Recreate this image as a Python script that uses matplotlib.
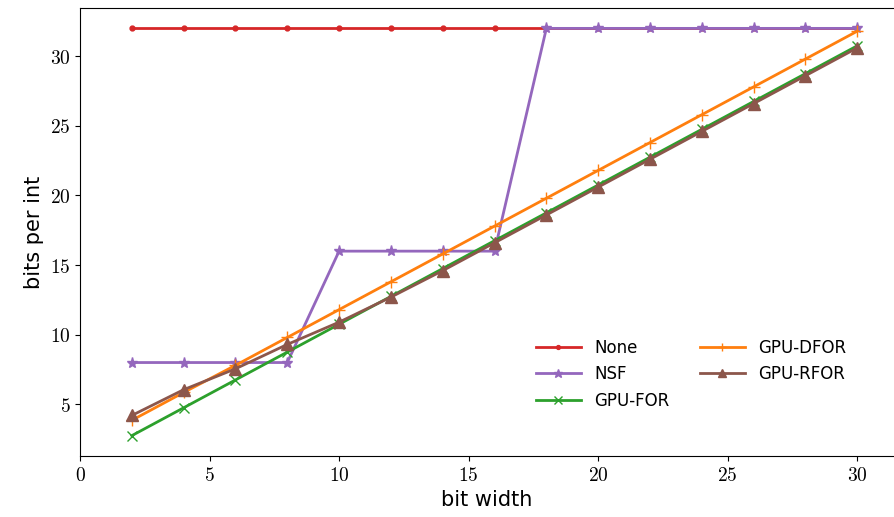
import numpy as np
import matplotlib.pyplot as plt
from matplotlib.ticker import FuncFormatter

plt.rcParams['mathtext.fontset'] = 'cm'
plt.rcParams['font.family'] = ['DejaVu Sans']

bit_width = [2, 4, 6, 8, 10, 12, 14, 16, 18, 20, 22, 24, 26, 28, 30]
none_bits = [32, 32, 32, 32, 32, 32, 32, 32, 32, 32, 32, 32, 32, 32, 32]
nsf_bits = [8, 8, 8, 8, 16, 16, 16, 16, 32, 32, 32, 32, 32, 32, 32]
gpu_for = [2.75, 4.75, 6.75, 8.75, 10.75, 12.75, 14.75, 16.75, 18.75, 20.75,
           22.75, 24.75, 26.75, 28.75, 30.75]
gpu_dfor = [3.85, 5.85, 7.8, 9.8, 11.8, 13.8, 15.8, 17.8, 19.8, 21.8,
            23.8, 25.8, 27.8, 29.8, 31.8]
gpu_rfor = [4.2, 6.05, 7.55, 9.3, 10.9, 12.7, 14.6, 16.6, 18.6, 20.6,
            22.6, 24.6, 26.6, 28.6, 30.6]


def draw():
    fig = plt.figure(figsize=(8.94, 5.17), dpi=100)
    ax = fig.add_axes([0.0895, 0.118, 0.91, 0.8665])

    ax.plot(bit_width, none_bits, color='tab:red', marker='.', markersize=7,
            linewidth=2, label='None')
    ax.plot(bit_width, nsf_bits, color='tab:purple', marker='*', markersize=8,
            linewidth=2, label='NSF')
    ax.plot(bit_width, gpu_for, color='tab:green', marker='x', markersize=7,
            linewidth=2, label='GPU-FOR')
    ax.plot(bit_width, gpu_dfor, color='tab:orange', marker='+', markersize=8,
            linewidth=2, label='GPU-DFOR')
    ax.plot(bit_width, gpu_rfor, color='tab:brown', marker='^', markersize=8,
            linewidth=2, label='GPU-RFOR')

    ax.set_xlim(left=0)
    ax.spines['right'].set_visible(False)

    fmt = FuncFormatter(lambda v, p: '$%d$' % v)
    ax.xaxis.set_major_formatter(fmt)
    ax.yaxis.set_major_formatter(fmt)
    ax.tick_params(labelsize=14)

    ax.set_xlabel('bit width', fontsize=15)
    ax.set_ylabel('bits per int', fontsize=15)

    ax.legend(ncol=2, frameon=False, fontsize=12, loc='lower right',
              bbox_to_anchor=(0.96, 0.07), columnspacing=1.8,
              handlelength=2.7, markerscale=0.8)

    fig.savefig('out.png', dpi=100)


if __name__ == '__main__':
    draw()
